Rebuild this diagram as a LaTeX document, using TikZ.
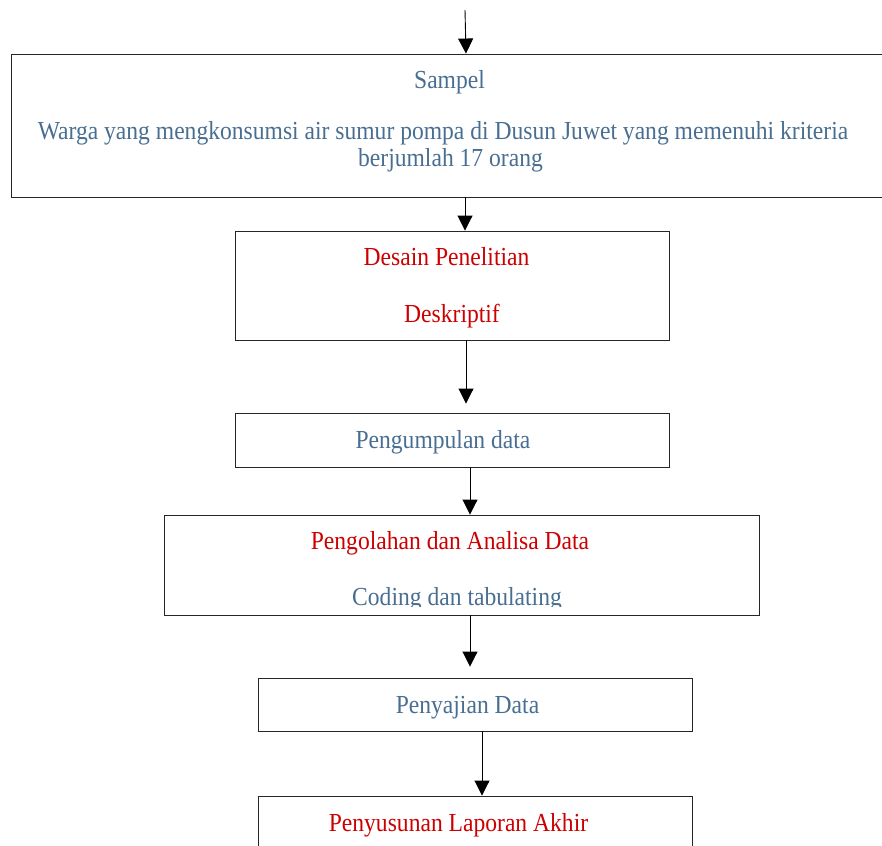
\documentclass[tikz,border=0pt]{standalone}
\usepackage{fontspec}
\setmainfont{Liberation Serif}[FakeStretch=0.907]
\usetikzlibrary{arrows.meta,calc}
\definecolor{steel}{RGB}{72,110,145}
\definecolor{alert}{RGB}{204,0,0}
\begin{document}
\begin{tikzpicture}[x=1pt,y=-1pt,
  box/.style={draw=black!85,line width=0.9pt,rectangle,inner sep=0pt},
  lbl/.style={anchor=base,inner sep=0pt,font=\fontsize{26}{28}\selectfont},
  blue/.style={lbl,text=steel},
  red/.style={lbl,text=alert},
  flow/.style={draw=black,line width=0.9pt,-{Triangle[width=15pt,length=15pt]}}]
\useasboundingbox (0,0) rectangle (882,845);
\clip (0,0) rectangle (882,845);

% process boxes
\node[box,minimum width=873pt,minimum height=143pt] (s1) at (447.5,125.5) {};
\node[box,minimum width=434pt,minimum height=109pt] (s2) at (452,285.5) {};
\node[box,minimum width=434pt,minimum height=54pt]  (s3) at (452,440) {};
\node[box,minimum width=595pt,minimum height=100pt] (s4) at (461.5,565) {};
\node[box,minimum width=434pt,minimum height=53pt]  (s5) at (475,704.5) {};
\node[box,minimum width=434pt,minimum height=100pt] (s6) at (475,846) {};

% labels
\node[blue] (t1a) at (449.5,89) {Sampel};
\node[blue] (t1b) at (443,140) {Warga yang mengkonsumsi air sumur pompa di Dusun Juwet yang memenuhi kriteria};
\node[blue] (t1c) at (450.5,167) {berjumlah 17 orang};
\node[red]  (t2a) at (446.5,265) {Desain Penelitian};
\node[red]  (t2b) at (452,322) {Deskriptif};
\node[blue] (t3)  at (443,448) {Pengumpulan data};
\node[red]  (t4a) at (450,549) {Pengolahan dan Analisa Data};
\begin{scope}
  \clip (s4.north west) rectangle ($(s4.south east)+(0,-9)$);
  \node[blue] (t4b) at (457,605) {Coding dan tabulating};
\end{scope}
\node[blue] (t5)  at (467.5,713) {Penyajian Data};
\node[red]  (t6)  at (458.5,831) {Penyusunan Laporan Akhir};

% connectors
\coordinate (start) at (465,10);
\draw[flow] (start) -- (s1.north -| 466,0);
\draw[flow] (s1.south -| 465,0) -- (s2.north -| 465,0);
\draw[flow,shorten >=9pt] (s2.south -| 466,0) -- (s3.north -| 466,0);
\draw[flow] (s3.south -| 470,0) -- (s4.north -| 470,0);
\draw[flow,shorten >=11pt] (s4.south -| 470,0) -- (s5.north -| 470,0);
\draw[flow] (s5.south -| 482,0) -- (s6.north -| 482,0);
\end{tikzpicture}
\end{document}
